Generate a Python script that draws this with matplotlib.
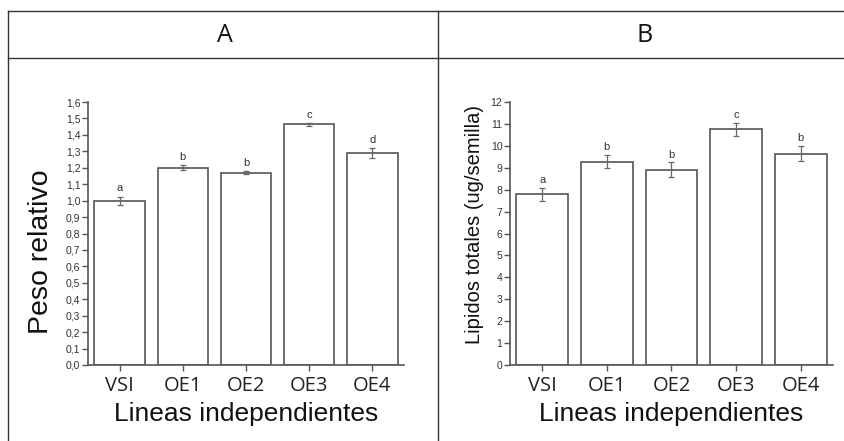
import numpy as np
import matplotlib.pyplot as plt
from matplotlib.lines import Line2D
from matplotlib.ticker import FuncFormatter

# datos
lineas = ["VSI", "OE1", "OE2", "OE3", "OE4"]

peso_rel = [1.00, 1.20, 1.17, 1.465, 1.29]
peso_err = [0.025, 0.015, 0.010, 0.008, 0.030]
peso_letras = ["a", "b", "b", "c", "d"]
peso_ticks = [i / 10 for i in range(17)]

lipidos = [7.78, 9.28, 8.92, 10.75, 9.64]
lipidos_err = [0.30, 0.30, 0.33, 0.30, 0.35]
lipidos_letras = ["a", "b", "b", "c", "b"]
lipidos_ticks = list(range(13))

W, H = 845, 441
fig = plt.figure(figsize=(W / 100, H / 100), dpi=100)

edge = "#555555"
sans = ["Liberation Sans", "DejaVu Sans"]
opens = ["Open Sans", "DejaVu Sans"]


def px(x0, y0, x1, y1):
    # pixeles -> fraccion de figura
    return [x0 / W, 1 - y1 / H, (x1 - x0) / W, (y1 - y0) / H]


def panel(rect, vals, errs, letras, ticks, fmt, letra_off):
    ax = fig.add_axes(rect)
    x = np.arange(1, len(lineas) + 1)
    ax.bar(x, vals, width=0.8, color="white", edgecolor=edge, linewidth=1.2, zorder=2)
    ax.errorbar(x, vals, yerr=errs, fmt="none", ecolor="#666666", elinewidth=0.9,
                capsize=2.5, capthick=0.9, zorder=3)
    for xi, v, e, l in zip(x, vals, errs, letras):
        ax.text(xi, v + e + letra_off, l, ha="center", va="bottom",
                fontsize=8, family=sans, color="#333333")
    ax.set_xlim(0.5, len(lineas) + 0.5)
    ax.set_ylim(ticks[0], ticks[-1])
    ax.set_yticks(ticks)
    ax.yaxis.set_major_formatter(FuncFormatter(fmt))
    ax.set_xticks(x)
    ax.set_xticklabels(lineas, family=opens, fontsize=14.5, color="#222222")
    for s in ["top", "right"]:
        ax.spines[s].set_visible(False)
    for s in ["left", "bottom"]:
        ax.spines[s].set_color(edge)
        ax.spines[s].set_linewidth(1.2)
    ax.tick_params(axis="y", direction="out", length=4, width=1, color=edge,
                   labelsize=7.5, labelcolor="#333333", pad=1.5)
    ax.tick_params(axis="x", direction="out", length=4, width=1, color=edge, pad=4)
    for t in ax.get_yticklabels():
        t.set_family(sans)
    ax.set_xlabel("Lineas independientes", family=sans, fontsize=19,
                  color="#111111", labelpad=4)
    return ax


panel(px(88, 102, 404, 365), peso_rel, peso_err, peso_letras, peso_ticks,
      lambda v, p: f"{v:.1f}".replace(".", ","), 0.02)
panel(px(510, 102, 833, 365), lipidos, lipidos_err, lipidos_letras, lipidos_ticks,
      lambda v, p: f"{v:.0f}", 0.12)

# titulos de eje y
fig.text(54 / W, 1 - 252 / H, "Peso relativo", rotation=90, ha="right", va="center",
         family=sans, fontsize=20.5, color="#111111")
fig.text(484 / W, 1 - 225 / H, "Lipidos totales (ug/semilla)", rotation=90,
         ha="right", va="center", family=sans, fontsize=14.5, color="#111111")

# marco tipo tabla
lc = "#333333"
lines = [
    ((8, 845), (11, 11)),
    ((8, 845), (58, 58)),
    ((8, 8), (11, 441)),
    ((438, 438), (11, 441)),
]
for xs, ys in lines:
    fig.add_artist(Line2D([v / W for v in xs], [1 - v / H for v in ys],
                          color=lc, linewidth=1.0))

fig.text(225 / W, 1 - 36 / H, "A", ha="center", va="center", family=opens,
         fontsize=18, color="#111111")
fig.text(645 / W, 1 - 36 / H, "B", ha="center", va="center", family=opens,
         fontsize=18, color="#111111")

fig.savefig("out.png", dpi=100)
